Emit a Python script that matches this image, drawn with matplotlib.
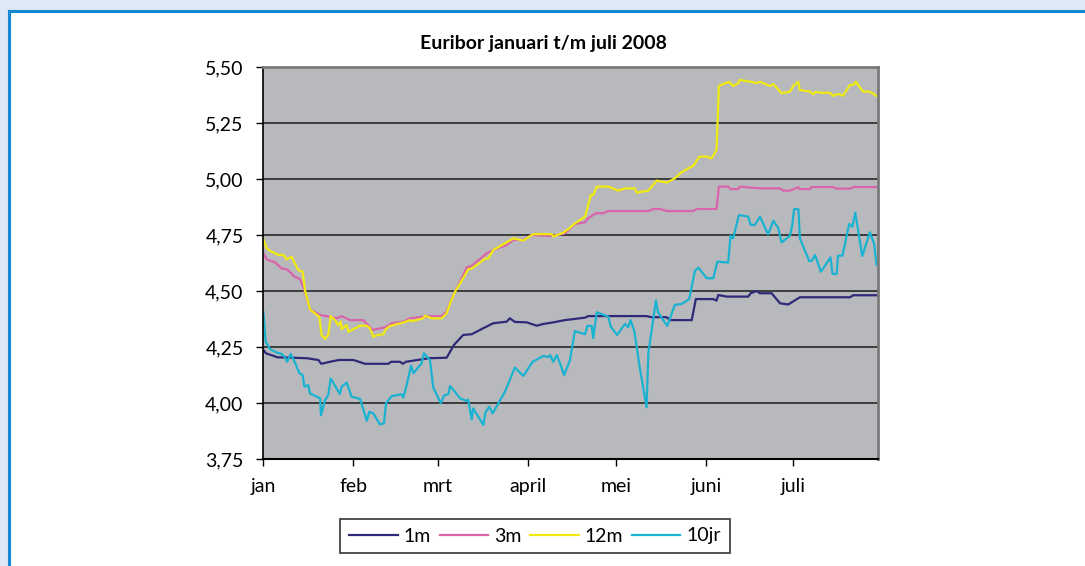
import matplotlib
matplotlib.use('Agg')
import matplotlib.pyplot as plt
from matplotlib.lines import Line2D
from matplotlib.patches import Rectangle

plt.rcParams['font.family'] = ['Lato', 'DejaVu Sans']

# dagnummer vanaf 1 januari 2008
maanden = ['jan', 'feb', 'mrt', 'april', 'mei', 'juni', 'juli']
maand_start = [0, 31, 60, 91, 121, 152, 182]

dag_1m = [0, 1, 5, 15, 19, 20, 23, 26, 31, 35, 43, 44, 47, 48, 49, 57, 63, 65.5, 68.7,
          71.6, 75.6, 79, 83.6, 84.7, 86.4, 90.5, 93.9, 96.2, 99.6, 103.6, 110.5, 111.6,
          131.6, 133.3, 138.5, 139.6, 147.1, 148.5, 154.5, 155.6, 156.2, 159.1, 166.5,
          167.3, 169.4, 170.5, 174.5, 177.4, 180.2, 184.2, 201.4, 202.5, 210.5]
rente_1m = [4.24, 4.222, 4.204, 4.20, 4.192, 4.175, 4.184, 4.192, 4.192, 4.175, 4.175,
            4.184, 4.184, 4.175, 4.184, 4.20, 4.202, 4.259, 4.304, 4.307, 4.334, 4.356,
            4.363, 4.378, 4.362, 4.36, 4.345, 4.353, 4.36, 4.37, 4.381, 4.388, 4.388,
            4.383, 4.383, 4.37, 4.37, 4.464, 4.464, 4.457, 4.482, 4.475, 4.475, 4.49,
            4.50, 4.49, 4.49, 4.445, 4.44, 4.472, 4.472, 4.481, 4.481]

dag_3m = [0, 1.3, 4.1, 6.4, 8.1, 9.8, 10.4, 12.7, 14.4, 16.1, 19.6, 23, 25.3, 27, 29.8,
          34.4, 37.6, 41.9, 44.2, 48.1, 50.4, 55, 57.3, 61.3, 63, 65.3, 68.2, 69.9, 71.6,
          76.7, 79, 83.6, 85.9, 89.3, 92.2, 99, 103.6, 107, 110.5, 111.6, 114.2, 116.7,
          118.5, 132.2, 133.9, 136.2, 138.5, 147.6, 148.8, 155.6, 156.4, 159.6, 160.4,
          163, 163.6, 170.5, 177.4, 178.5, 180.8, 183.6, 184.2, 187.7, 188.2, 195.6,
          196.8, 201.4, 202.5, 210.5]
rente_3m = [4.671, 4.641, 4.628, 4.601, 4.597, 4.579, 4.567, 4.553, 4.497, 4.418, 4.393,
            4.385, 4.378, 4.388, 4.37, 4.37, 4.326, 4.338, 4.356, 4.363, 4.378, 4.385,
            4.388, 4.388, 4.408, 4.482, 4.557, 4.606, 4.612, 4.668, 4.683, 4.705, 4.728,
            4.728, 4.75, 4.745, 4.757, 4.799, 4.807, 4.825, 4.847, 4.847, 4.857, 4.857,
            4.866, 4.866, 4.857, 4.857, 4.866, 4.866, 4.966, 4.966, 4.955, 4.955, 4.966,
            4.958, 4.958, 4.948, 4.948, 4.963, 4.955, 4.955, 4.964, 4.964, 4.957, 4.957,
            4.964, 4.964]

dag_12m = [0, 1.3, 3, 5.2, 7, 8.1, 9.8, 12.1, 13.6, 14.4, 16.1, 19.3, 20.1, 21.3, 22.4,
           23.2, 24.7, 25.8, 26.7, 27, 28.7, 29.3, 33.3, 35.6, 36.7, 37.8, 39, 41.3, 42.1,
           43.6, 48.1, 50.4, 51, 55, 55.6, 57.9, 61.3, 63, 64.2, 65.9, 68.7, 70.4, 71.6,
           75.6, 76.2, 77.3, 79, 85.9, 89.3, 92.7, 99, 99.6, 103, 105.1, 107, 110.5,
           112.5, 113.3, 114.5, 118.5, 121.9, 124.2, 127.6, 128.2, 132.2, 135.1, 138.5,
           141.3, 143.1, 145.9, 147.6, 149.7, 152.2, 153.9, 155.6, 156.4, 157.9, 159.9,
           161.3, 163, 163.6, 168.2, 169.4, 170.5, 173.9, 175.1, 177.9, 180.8, 181.9,
           183.6, 184.2, 187.7, 188.8, 189.7, 191.1, 194.5, 195.6, 197.3, 199, 201.4,
           202.5, 203.4, 205.9, 208.2, 210.5]
rente_12m = [4.735, 4.69, 4.675, 4.661, 4.661, 4.641, 4.653, 4.594, 4.586, 4.504, 4.418,
             4.385, 4.304, 4.286, 4.304, 4.388, 4.37, 4.348, 4.363, 4.329, 4.348, 4.318,
             4.345, 4.345, 4.334, 4.296, 4.302, 4.307, 4.329, 4.344, 4.359, 4.37, 4.365,
             4.378, 4.39, 4.378, 4.378, 4.40, 4.445, 4.497, 4.557, 4.597, 4.60, 4.638,
             4.645, 4.645, 4.683, 4.735, 4.725, 4.754, 4.754, 4.743, 4.76, 4.78, 4.802,
             4.832, 4.929, 4.929, 4.966, 4.966, 4.948, 4.958, 4.958, 4.939, 4.948, 4.993,
             4.984, 5.003, 5.025, 5.048, 5.058, 5.10, 5.10, 5.092, 5.129, 5.415, 5.424,
             5.434, 5.415, 5.427, 5.442, 5.432, 5.428, 5.434, 5.415, 5.424, 5.383, 5.39,
             5.415, 5.434, 5.397, 5.39, 5.379, 5.39, 5.385, 5.385, 5.371, 5.38, 5.372,
             5.42, 5.42, 5.434, 5.39, 5.39, 5.371]

dag_10jr = [0.1, 0.9, 2.4, 4.7, 6.4, 7.5, 8.3, 9.5, 11, 12.5, 13.6, 14.2, 15.5, 16.1,
            19.6, 19.9, 21.3, 22.4, 23.2, 26.4, 27, 28.7, 30.4, 33.3, 35.6, 36.5, 37.8,
            40.1, 41.5, 42.2, 44.2, 47.6, 48.1, 49.3, 50.8, 51.6, 54.4, 55.2, 57.3, 58.4,
            61, 62.1, 63.6, 64.2, 67.6, 69.9, 70.4, 71.6, 72.1, 75.6, 76.3, 77.6, 78.8,
            83, 86.4, 89.3, 92.5, 96.2, 97.9, 98.5, 99.6, 100.8, 101.9, 103.3, 105.3,
            107, 110.5, 111.3, 112.8, 113.3, 114.5, 118.5, 119.3, 121.5, 124.2, 125.3,
            126.1, 127.4, 129.3, 131.6, 132.2, 134.8, 135.6, 138.7, 141.3, 143.6, 146.2,
            148.2, 149.4, 152.2, 154.5, 155.9, 159.6, 160.4, 161.3, 163.3, 166.5, 167.3,
            168.8, 170.5, 173.3, 175.1, 176.8, 177.9, 180.8, 181.6, 182.2, 183.7, 184.2,
            187.4, 188.2, 189.4, 191.4, 194.7, 195.4, 196.8, 197.3, 198.8, 201.1, 202.2,
            203.2, 205.6, 208.2, 209.7, 210.5]
rente_10jr = [4.408, 4.274, 4.241, 4.225, 4.219, 4.204, 4.184, 4.219, 4.18, 4.133, 4.125,
              4.073, 4.08, 4.043, 4.021, 3.946, 4.013, 4.036, 4.11, 4.04, 4.073, 4.091,
              4.028, 4.018, 3.921, 3.961, 3.954, 3.905, 3.909, 3.999, 4.031, 4.039, 4.024,
              4.08, 4.167, 4.133, 4.177, 4.222, 4.192, 4.07, 3.999, 4.033, 4.04, 4.076,
              4.021, 4.009, 4.015, 3.927, 3.976, 3.902, 3.957, 3.983, 3.954, 4.05, 4.158,
              4.121, 4.184, 4.21, 4.205, 4.214, 4.184, 4.214, 4.177, 4.125, 4.19, 4.321,
              4.307, 4.344, 4.344, 4.289, 4.405, 4.385, 4.341, 4.304, 4.353, 4.338, 4.37,
              4.321, 4.155, 3.981, 4.222, 4.457, 4.403, 4.344, 4.438, 4.442, 4.463, 4.591,
              4.604, 4.557, 4.557, 4.631, 4.627, 4.747, 4.735, 4.839, 4.832, 4.795, 4.795,
              4.832, 4.753, 4.814, 4.78, 4.717, 4.747, 4.795, 4.865, 4.865, 4.735, 4.634,
              4.634, 4.661, 4.586, 4.65, 4.576, 4.576, 4.658, 4.658, 4.799, 4.787, 4.85,
              4.656, 4.762, 4.71, 4.616]

yticks = [3.75, 4.00, 4.25, 4.50, 4.75, 5.00, 5.25, 5.50]

fig = plt.figure(figsize=(10.85, 5.66), dpi=100)
ax = fig.add_axes([263 / 1085, 1 - 459 / 566, 615 / 1085, 392 / 566])
ax.set_facecolor('#b8b9bd')

ax.plot(dag_1m, rente_1m, color='#2e2a78', lw=1.6, label='1m')
ax.plot(dag_3m, rente_3m, color='#d964ac', lw=1.6, label='3m')
ax.plot(dag_12m, rente_12m, color='#f0ea10', lw=1.6, label='12m')
ax.plot(dag_10jr, rente_10jr, color='#19b3d1', lw=1.6, label='10jr')

ax.set_xlim(0, 211)
ax.set_ylim(3.75, 5.50)
ax.set_yticks(yticks)
ax.set_yticklabels([f'{v:.2f}'.replace('.', ',') for v in yticks])
ax.set_xticks(maand_start)
ax.set_xticklabels(maanden)
ax.yaxis.grid(True, color='#3c3c3c', lw=1.4)
ax.set_axisbelow(True)
ax.tick_params(axis='y', length=5, width=1, pad=9, labelsize=14)
ax.tick_params(axis='x', length=5, width=1, pad=9, labelsize=14)

ax.spines['left'].set_color('black')
ax.spines['left'].set_linewidth(1.2)
ax.spines['bottom'].set_color('black')
ax.spines['bottom'].set_linewidth(1.5)
ax.spines['top'].set_color('#7a7a7a')
ax.spines['top'].set_linewidth(2)
ax.spines['right'].set_color('#7a7a7a')
ax.spines['right'].set_linewidth(2)

fig.text(543 / 1085, 1 - 44 / 566, 'Euribor januari t/m juli 2008',
         ha='center', va='center', fontsize=14, fontweight='bold')

leg = fig.legend(loc='center', bbox_to_anchor=(535 / 1085, 1 - 536 / 566), ncol=4,
                 fontsize=14, frameon=True, fancybox=False, edgecolor='black',
                 handlelength=2.5, handletextpad=0.3, columnspacing=0.45,
                 borderpad=0.45, borderaxespad=0)
leg.get_frame().set_linewidth(1.2)

# kader om de figuur
fig.add_artist(Rectangle((0, 1 - 10 / 566), 1, 10 / 566, transform=fig.transFigure,
                         color='#dde9f6', lw=0))
fig.add_artist(Rectangle((0, 0), 7.5 / 1085, 1, transform=fig.transFigure,
                         color='#dde9f6', lw=0))
fig.add_artist(Line2D([8.5 / 1085, 1], [1 - 11 / 566, 1 - 11 / 566],
                      transform=fig.transFigure, color='#1488d2', lw=2.2))
fig.add_artist(Line2D([8.5 / 1085, 8.5 / 1085], [0, 1 - 11 / 566],
                      transform=fig.transFigure, color='#1488d2', lw=2.2))

fig.savefig('out.png', dpi=100)
